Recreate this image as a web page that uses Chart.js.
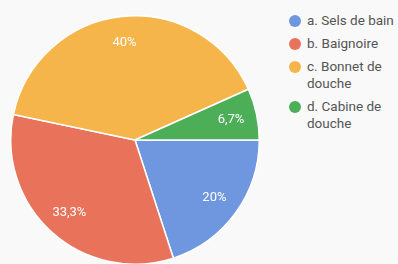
<!DOCTYPE html>
<html>
<head>
<meta charset="utf-8">
<script src="https://cdn.jsdelivr.net/npm/chart.js@4/dist/chart.umd.min.js"></script>
<style>
  html, body { margin: 0; padding: 0; background: #f9f9f9; }
  body { width: 398px; height: 264px; position: relative; overflow: hidden; font-family: Roboto, Arial, sans-serif; }
  #wrap { position: absolute; left: 0; top: 15px; width: 270px; height: 250px; }
  #legend { position: absolute; left: 288px; top: 12px; width: 112px; color: #555; font-size: 13.5px; }
  .item { position: relative; padding-left: 19px; line-height: 17px; margin-bottom: 6px; }
  .dot { position: absolute; left: 1px; top: 3px; width: 12px; height: 12px; border-radius: 50%; }
</style>
</head>
<body>
<div id="wrap"><canvas id="c"></canvas></div>
<div id="legend"></div>
<script>
const categories = ["a. Sels de bain", "b. Baignoire", "c. Bonnet de douche", "d. Cabine de douche"];
const values = [20, 33.3, 40, 6.7];
const valueLabels = ["20%", "33,3%", "40%", "6,7%"];
const colors = ["#6f97e0", "#e8735a", "#f6b54a", "#4caf58"];

const legend = document.getElementById('legend');
categories.forEach((c, i) => {
  const d = document.createElement('div');
  d.className = 'item';
  d.innerHTML = '<span class="dot" style="background:' + colors[i] + '"></span>' + c;
  legend.appendChild(d);
});

const labelPlugin = {
  id: 'sliceLabels',
  afterDatasetsDraw(chart) {
    const ctx = chart.ctx;
    const meta = chart.getDatasetMeta(0);
    ctx.save();
    ctx.fillStyle = '#ffffff';
    ctx.font = '13px Roboto, Arial, sans-serif';
    ctx.textAlign = 'center';
    ctx.textBaseline = 'middle';
    meta.data.forEach((arc, i) => {
      const mid = (arc.startAngle + arc.endAngle) / 2;
      const r = arc.outerRadius * 0.79;
      ctx.fillText(valueLabels[i], arc.x + Math.cos(mid) * r, arc.y + Math.sin(mid) * r);
    });
    ctx.restore();
  }
};

new Chart(document.getElementById('c'), {
  type: 'pie',
  data: {
    labels: categories,
    datasets: [{
      data: values,
      backgroundColor: colors,
      borderColor: '#ffffff',
      borderWidth: 1.5
    }]
  },
  options: {
    responsive: true,
    maintainAspectRatio: false,
    animation: false,
    rotation: 90,
    layout: { padding: 0 },
    plugins: { legend: { display: false }, tooltip: { enabled: false } }
  },
  plugins: [labelPlugin]
});
</script>
</body>
</html>
